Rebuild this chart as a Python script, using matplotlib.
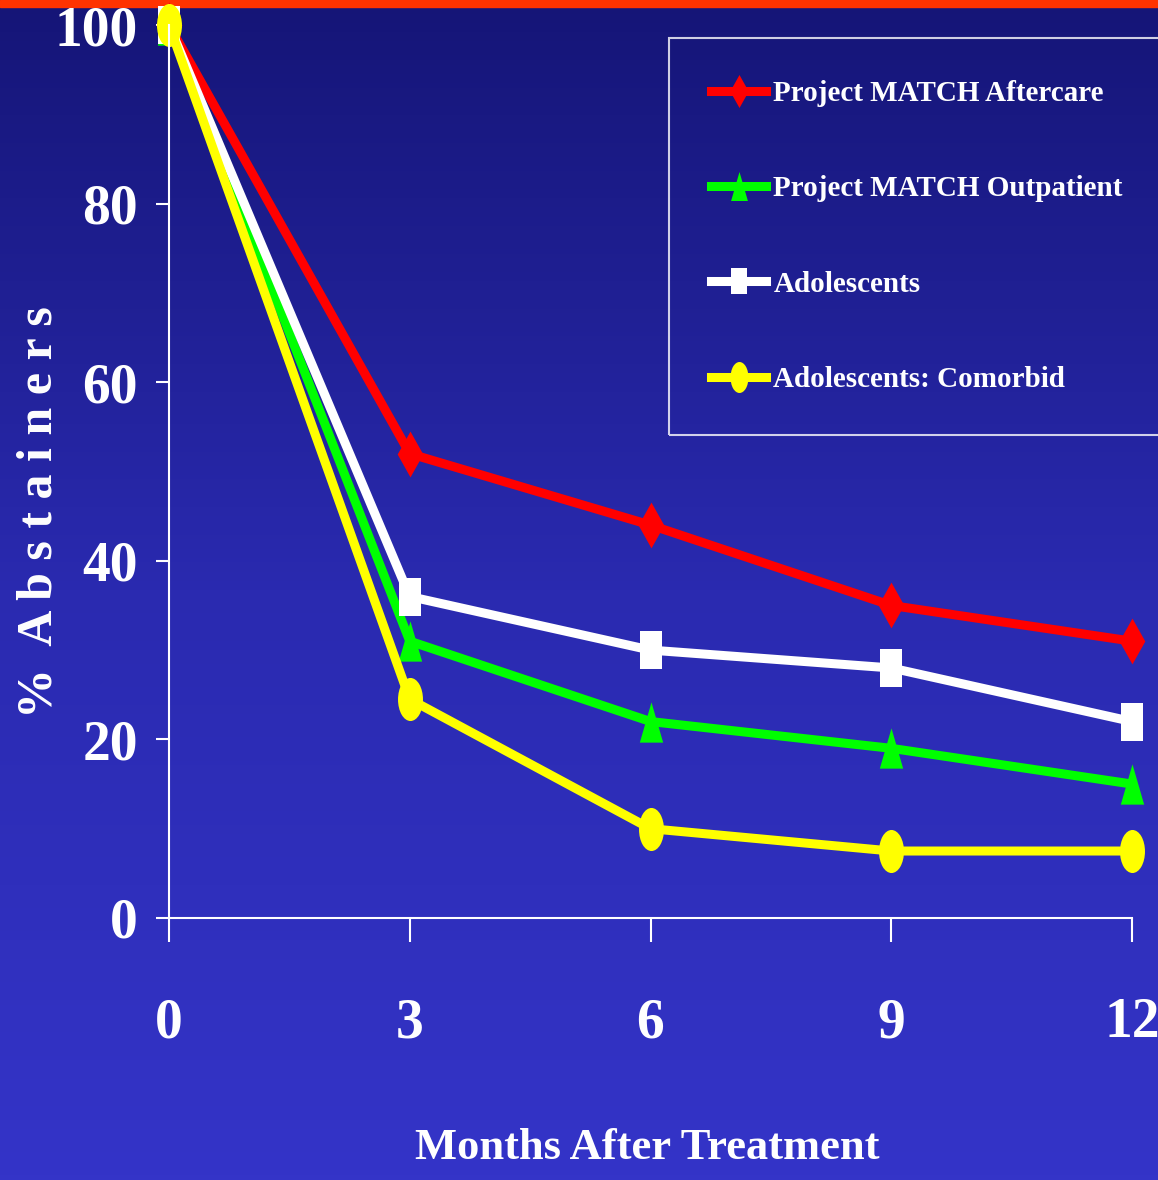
import numpy as np
import matplotlib
matplotlib.use("Agg")
import matplotlib.pyplot as plt
from matplotlib.path import Path
from matplotlib.transforms import Affine2D
from matplotlib.colors import LinearSegmentedColormap

# months after treatment and % abstainers for each group
months = [0, 3, 6, 9, 12]
aftercare = [100, 52, 44, 35, 31]
outpatient = [100, 31, 22, 19, 15]
adolescents = [100, 36, 30, 28, 22]
comorbid = [100, 24.5, 10, 7.5, 7.5]

series_names = ["Project MATCH Aftercare", "Project MATCH Outpatient",
                "Adolescents", "Adolescents: Comorbid"]
yticks = [0, 20, 40, 60, 80, 100]

plt.rcParams['font.family'] = ['Liberation Serif', 'DejaVu Serif']
plt.rcParams['font.weight'] = 'bold'

# tall, narrow marker shapes
diamond = Path([(0, 1), (0.56, 0), (0, -1), (-0.56, 0), (0, 1)],
               [Path.MOVETO, Path.LINETO, Path.LINETO, Path.LINETO, Path.CLOSEPOLY])
triangle = Path([(0, 1), (0.58, -1), (-0.58, -1), (0, 1)],
                [Path.MOVETO, Path.LINETO, Path.LINETO, Path.CLOSEPOLY])
square = Path([(-0.57, -1), (0.57, -1), (0.57, 1), (-0.57, 1), (-0.57, -1)],
              [Path.MOVETO, Path.LINETO, Path.LINETO, Path.LINETO, Path.CLOSEPOLY])
ellipse = Path.unit_circle().transformed(Affine2D().scale(0.58, 1))

fig = plt.figure(figsize=(11.58, 11.80), dpi=100)

# slide background: blue gradient with a red strip on top
bg = fig.add_axes([0, 0, 1, 1], zorder=-10)
cmap = LinearSegmentedColormap.from_list("slide", ["#151577", "#2a2ab0", "#3434c8"])
bg.imshow(np.linspace(0, 1, 256)[:, None], aspect='auto', cmap=cmap,
          extent=[0, 1, 0, 1], origin='upper')
bg.axhspan(1 - 7 / 1180, 1, color="#ff3300")
bg.set_xlim(0, 1)
bg.set_ylim(0, 1)
bg.axis('off')

ax = fig.add_axes([169 / 1158, 1 - 918 / 1180, 963 / 1158, 893 / 1180])
ax.set_facecolor('none')

styles = [
    (aftercare, "#ff0000", diamond, 33),
    (outpatient, "#00ff00", triangle, 29),
    (adolescents, "#ffffff", square, 27),
    (comorbid, "#ffff00", ellipse, 31),
]
for (vals, color, marker, ms), name in zip(styles, series_names):
    ax.plot(months, vals, color=color, lw=6.5, marker=marker, markersize=ms,
            markeredgewidth=0, clip_on=False, label=name)

ax.set_xlim(0, 12)
ax.set_ylim(0, 100)
ax.set_xticks(months)
ax.set_yticks(yticks)
for side in ['top', 'right']:
    ax.spines[side].set_visible(False)
for side in ['left', 'bottom']:
    ax.spines[side].set_color('white')
    ax.spines[side].set_linewidth(1.5)
ax.tick_params(axis='y', colors='white', width=1.5, length=9.5, pad=13,
               labelsize=40)
ax.tick_params(axis='x', colors='white', width=1.5, length=17, pad=40,
               labelsize=40)

ax.set_xlabel("Months After Treatment", color='white', fontsize=32,
              fontweight='bold')
ax.xaxis.set_label_coords(478 / 963, -(1148 - 918) / 893)
ax.xaxis.label.set_va('center')
ax.set_ylabel("%  A b s t a i n e r s", color='white', fontsize=36,
              fontweight='bold')
ax.yaxis.set_label_coords(-(169 - 40) / 963, (918 - 512) / 893)
ax.yaxis.label.set_va('center')

leg = fig.legend(loc='upper left', bbox_to_anchor=(669 / 1158, 1 - 38 / 1180),
                 fontsize=21, frameon=True, fancybox=False, facecolor='none',
                 edgecolor='white', handlelength=1.9, handletextpad=0.24,
                 labelspacing=2.34, borderpad=1.44, borderaxespad=0,
                 markerscale=0.72)
leg.get_frame().set_linewidth(1.5)
for text in leg.get_texts():
    text.set_color('white')

fig.savefig("out.png", dpi=100)
